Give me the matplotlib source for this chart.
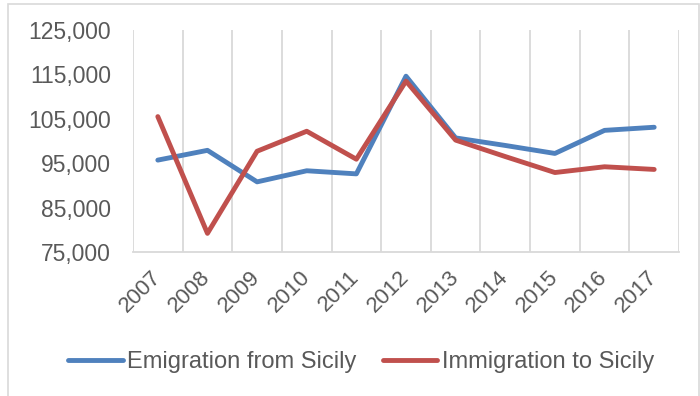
import matplotlib.pyplot as plt
from matplotlib.patches import Rectangle

years = ["2007", "2008", "2009", "2010", "2011", "2012",
         "2013", "2014", "2015", "2016", "2017"]
emigration = [95700, 97900, 90800, 93300, 92600, 114600,
              100700, 99000, 97200, 102400, 103100]
immigration = [105500, 79200, 97700, 102200, 95900, 113500,
               100200, 96500, 92900, 94200, 93600]
y_ticks = [75000, 85000, 95000, 105000, 115000, 125000]

plt.rcParams["font.family"] = ["Liberation Sans", "DejaVu Sans"]
text_color = "#595959"
grid_color = "#d9d9d9"

fig = plt.figure(figsize=(7, 3.96), dpi=100)
ax = fig.add_axes([0.19, 0.3636, 0.78, 0.5606])

x = range(len(years))
ax.plot(x, emigration, color="#4F81BD", lw=3.5, solid_capstyle="round",
        solid_joinstyle="round", label="Emigration from Sicily")
ax.plot(x, immigration, color="#C0504D", lw=3.5, solid_capstyle="round",
        solid_joinstyle="round", label="Immigration to Sicily")

ax.set_xlim(-0.5, len(years) - 0.5)
ax.set_ylim(75000, 125000)

# vertical gridlines sit between categories, like Excel
for i in range(len(years) + 1):
    ax.axvline(i - 0.5, color=grid_color, lw=1.3, zorder=0)

ax.set_xticks(list(x))
ax.set_xticklabels(years, rotation=45, ha="right", va="center",
                   rotation_mode="anchor", fontsize=16, color=text_color)
ax.tick_params(axis="x", length=0, pad=16)

ax.set_yticks(y_ticks)
ax.set_yticklabels([f"{v:,}" for v in y_ticks], fontsize=16.5, color=text_color)
ax.tick_params(axis="y", length=0, pad=16)

for side in ["top", "right", "left"]:
    ax.spines[side].set_visible(False)
ax.spines["bottom"].set_color(grid_color)
ax.spines["bottom"].set_linewidth(1.3)

leg = fig.legend(loc="center", bbox_to_anchor=(0.516, 0.086), ncol=2,
                 frameon=False, fontsize=17, handlelength=2.3,
                 handletextpad=0.2, columnspacing=1.1)
for t in leg.get_texts():
    t.set_color(text_color)

fig.patches.append(Rectangle((8 / 700, -0.01), 691 / 700, 1.0,
                             transform=fig.transFigure, fill=False,
                             edgecolor=grid_color, lw=1.2))

fig.savefig("out.png", dpi=100)
